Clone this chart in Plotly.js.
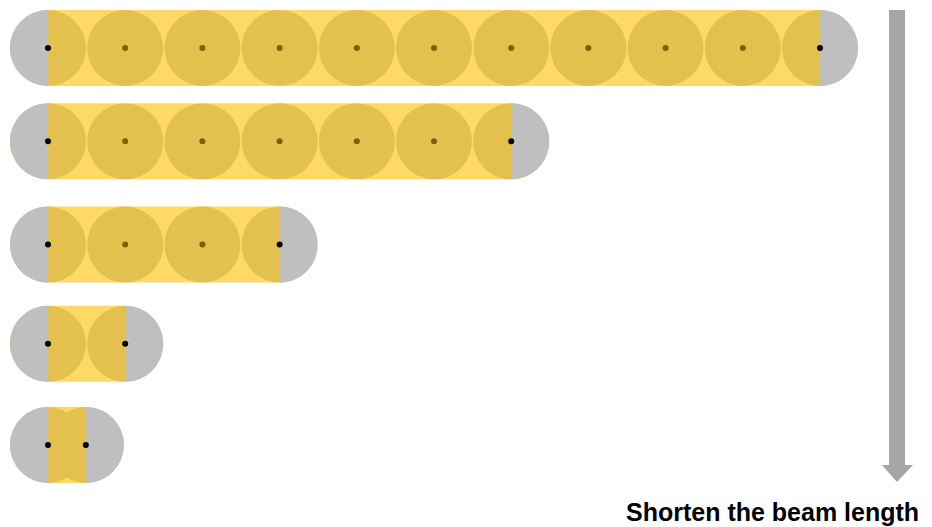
<!DOCTYPE html>
<html>
<head>
<meta charset="utf-8">
<script src="https://cdn.plot.ly/plotly-3.0.1.min.js"></script>
<style>html,body{margin:0;padding:0;background:#fff;}#chart{width:932px;height:527px;}</style>
</head>
<body>
<div id="chart"></div>
<script>
// ---- data ----
// vertical position of each beam (row index units)
const rowPos = [0, 0.94, 1.98, 2.98, 4];
// node positions along each beam (in node-spacing units)
const beamNodes = [
  [0, 1, 2, 3, 4, 5, 6, 7, 8, 9, 10],
  [0, 1, 2, 3, 4, 5, 6],
  [0, 1, 2, 3],
  [0, 1],
  [0, 0.49]
];
const caption = 'Shorten the beam length';

// ---- layout / style constants ----
const W = 932, H = 527;
const pxPerX = 77.2, originXpx = 48;
const pxPerY = 99.25, originYpx = 48;
const radiusPx = 38;
const rx = radiusPx / pxPerX, ry = radiusPx / pxPerY;
const xRange = [-originXpx / pxPerX, (W - originXpx) / pxPerX];
const yRange = [(H - originYpx) / pxPerY, -originYpx / pxPerY];

const colLight = '#FFD966';
const colDark = '#E4C04F';
const colGray = '#BFBFBF';
const colArrow = '#A6A6A6';
const colEndDot = '#000000';
const colMidDot = '#7F6000';

function halfCircle(cx, cy, side) {
  const k = 0.5523;
  const s = side;
  return `M ${cx},${cy - ry} C ${cx + s * k * rx},${cy - ry} ${cx + s * rx},${cy - k * ry} ${cx + s * rx},${cy} ` +
         `C ${cx + s * rx},${cy + k * ry} ${cx + s * k * rx},${cy + ry} ${cx},${cy + ry} Z`;
}

const shapes = [];
const dotX = [], dotY = [], dotC = [];
beamNodes.forEach((nodes, i) => {
  const y = rowPos[i];
  const a = nodes[0], b = nodes[nodes.length - 1];
  // light beam body
  shapes.push({type: 'rect', xref: 'x', yref: 'y', x0: a, x1: b, y0: y - ry, y1: y + ry,
    fillcolor: colLight, line: {width: 0}, layer: 'below'});
  // element circles
  nodes.forEach(n => {
    shapes.push({type: 'circle', xref: 'x', yref: 'y', x0: n - rx, x1: n + rx, y0: y - ry, y1: y + ry,
      fillcolor: colDark, line: {width: 0}, layer: 'below'});
  });
  // gray end caps
  shapes.push({type: 'path', xref: 'x', yref: 'y', path: halfCircle(a, y, -1),
    fillcolor: colGray, line: {width: 0}, layer: 'below'});
  shapes.push({type: 'path', xref: 'x', yref: 'y', path: halfCircle(b, y, 1),
    fillcolor: colGray, line: {width: 0}, layer: 'below'});
  nodes.forEach((n, j) => {
    dotX.push(n); dotY.push(y);
    dotC.push((j === 0 || j === nodes.length - 1) ? colEndDot : colMidDot);
  });
});

// arrow (decoration, paper coords)
function px(x, y) { return `${x / W},${1 - y / H}`; }
shapes.push({type: 'path', xref: 'paper', yref: 'paper',
  path: `M ${px(889, 10)} L ${px(905, 10)} L ${px(905, 465)} L ${px(913, 465)} L ${px(897, 482)} L ${px(882, 465)} L ${px(889, 465)} Z`,
  fillcolor: colArrow, line: {width: 0}, layer: 'below'});

const traces = [{
  type: 'scatter', mode: 'markers', x: dotX, y: dotY,
  marker: {size: 6, color: dotC, line: {width: 0}},
  hoverinfo: 'skip', cliponaxis: false
}];

const layout = {
  width: W, height: H,
  margin: {l: 0, r: 0, t: 0, b: 0, pad: 0},
  paper_bgcolor: '#ffffff', plot_bgcolor: '#ffffff',
  showlegend: false, hovermode: false,
  xaxis: {range: xRange, visible: false, fixedrange: true},
  yaxis: {range: yRange, visible: false, fixedrange: true},
  shapes: shapes,
  annotations: [{
    text: '<b>' + caption + '</b>', showarrow: false,
    xref: 'paper', yref: 'paper', x: 921 / W, y: 1 - 512 / H,
    xanchor: 'right', yanchor: 'middle',
    font: {family: 'Liberation Sans, Arial, sans-serif', size: 25, color: '#000000'}
  }]
};

Plotly.newPlot('chart', traces, layout, {displayModeBar: false, staticPlot: true});
</script>
</body>
</html>
